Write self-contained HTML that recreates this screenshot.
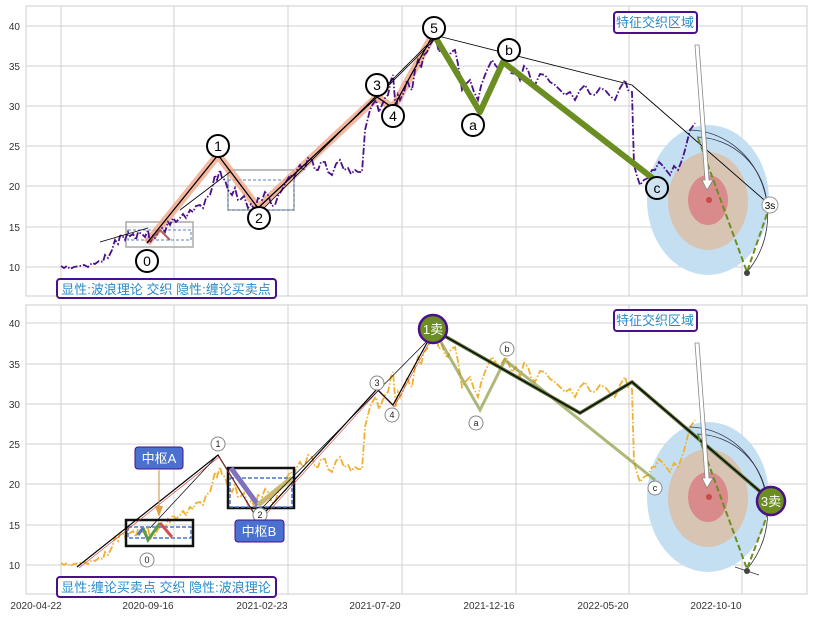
<!DOCTYPE html>
<html><head><meta charset="utf-8"><style>
body{margin:0;background:#fff;}
svg text{font-family:"Liberation Sans","Noto Sans CJK SC",sans-serif;}
</style></head><body>
<svg width="813" height="617" viewBox="0 0 813 617" xmlns="http://www.w3.org/2000/svg">
<defs>
<g id="price">
<polyline fill="none" points="61,266 64,268 67,266 70,269 74,267 80,266 84,265 88,267 92,263 95,264 99,261 103,262 105,255 108,258 112,250 115,240 118,244 120,236 122,235 125,240 128,232 130,236 133,234 136,240 138,232 142,234 145,237 148,230 150,243 153,236 155,238 158,232 162,228 165,232 168,222 170,225 173,218 176,222 180,218 183,214 186,218 190,210 193,212 196,206 200,205 203,208 206,198 210,195 212,188 215,175 217,180 220,170 222,178 225,180 228,190 232,195 235,188 238,200 240,200 244,196 248,208 251,204 255,210 258,198 262,200 265,192 268,195 272,206 275,205 278,196 282,190 286,182 290,175 294,178 297,170 300,165 303,170 305,168 308,158 312,160 315,170 318,170 321,162 325,162 328,172 332,175 336,164 340,160 344,170 348,168 351,174 355,170 358,172 362,172 364,145 365,130 368,118 370,110 373,104 376,100 379,112 382,105 385,98 388,95 391,80 393,75 395,100 396,110 398,95 400,100 404,92 407,80 410,88 412,90 415,70 418,60 421,68 424,55 427,52 430,45 433,40 436,40 439,52 442,48 445,58 448,60 451,52 455,50 458,64 462,90 466,84 470,80 474,92 478,100 481,86 485,75 488,68 492,60 496,66 500,70 503,64 506,60 509,68 512,75 516,70 520,80 524,66 528,70 531,80 535,85 540,74 545,75 550,82 555,85 560,90 565,95 570,92 575,100 580,90 585,85 590,94 595,95 600,88 605,90 610,96 615,100 620,88 625,80 628,90 632,92 633,130 634,165 637,176 640,185 644,180 648,178 652,170 655,170 659,162 662,165 666,170 670,175 674,166 678,170 682,160 685,150 688,138 690,130 693,126 695,123"/>
</g>
</defs>
<rect x="26" y="6" width="781" height="290" fill="#fff" stroke="#ccc"/>
<rect x="26" y="305" width="781" height="289" fill="#fff" stroke="#ccc"/>
<g stroke="#d0d0d0" stroke-width="1">
<line x1="26" x2="807" y1="26" y2="26"/><line x1="26" x2="807" y1="66" y2="66"/><line x1="26" x2="807" y1="106" y2="106"/><line x1="26" x2="807" y1="146" y2="146"/><line x1="26" x2="807" y1="186" y2="186"/><line x1="26" x2="807" y1="227" y2="227"/><line x1="26" x2="807" y1="267" y2="267"/>
<line x1="26" x2="807" y1="323" y2="323"/><line x1="26" x2="807" y1="364" y2="364"/><line x1="26" x2="807" y1="404" y2="404"/><line x1="26" x2="807" y1="444" y2="444"/><line x1="26" x2="807" y1="484" y2="484"/><line x1="26" x2="807" y1="525" y2="525"/><line x1="26" x2="807" y1="565" y2="565"/>
<line x1="61" x2="61" y1="6" y2="296"/><line x1="174" x2="174" y1="6" y2="296"/><line x1="288" x2="288" y1="6" y2="296"/><line x1="402" x2="402" y1="6" y2="296"/><line x1="516" x2="516" y1="6" y2="296"/><line x1="629" x2="629" y1="6" y2="296"/><line x1="742" x2="742" y1="6" y2="296"/>
<line x1="61" x2="61" y1="305" y2="594"/><line x1="174" x2="174" y1="305" y2="594"/><line x1="288" x2="288" y1="305" y2="594"/><line x1="402" x2="402" y1="305" y2="594"/><line x1="516" x2="516" y1="305" y2="594"/><line x1="629" x2="629" y1="305" y2="594"/><line x1="742" x2="742" y1="305" y2="594"/>
</g>
<g font-size="10" fill="#333" text-anchor="end">
<text x="20" y="30">40</text><text x="20" y="70">35</text><text x="20" y="110">30</text><text x="20" y="150">25</text><text x="20" y="190">20</text><text x="20" y="231">15</text><text x="20" y="271">10</text>
<text x="20" y="327">40</text><text x="20" y="368">35</text><text x="20" y="408">30</text><text x="20" y="448">25</text><text x="20" y="488">20</text><text x="20" y="529">15</text><text x="20" y="569">10</text>
</g>
<g font-size="10" fill="#333" text-anchor="middle">
<text x="36" y="609">2020-04-22</text><text x="148" y="609">2020-09-16</text><text x="262" y="609">2021-02-23</text><text x="375" y="609">2021-07-20</text><text x="489" y="609">2021-12-16</text><text x="603" y="609">2022-05-20</text><text x="716" y="609">2022-10-10</text>
</g>

<!-- TOP -->
<ellipse cx="708" cy="200" rx="61" ry="75" fill="#c5dff2"/>
<ellipse cx="708" cy="201" rx="40" ry="49" fill="#d8c4b2"/>
<ellipse cx="708" cy="200" rx="20" ry="25" fill="#d98a8a"/>
<circle cx="709" cy="200" r="3" fill="#c84a4a"/>
<rect x="126" y="222" width="67" height="25" fill="none" stroke="#aaa" stroke-width="1.5"/>
<rect x="128" y="230" width="63" height="10" fill="none" stroke="#5a7fc0" stroke-dasharray="3,2"/>
<rect x="228" y="170" width="66" height="40" fill="none" stroke="#aaa" stroke-width="1.5"/>
<rect x="228" y="180" width="66" height="30" fill="none" stroke="#5a7fc0" stroke-dasharray="3,2"/>
<polyline points="147,243 218,155 258,208 377,97 393,108 434,33" fill="none" stroke="#f0a080" stroke-opacity="0.75" stroke-width="8" stroke-linejoin="round"/>
<use href="#price" stroke="#4b0f8a" stroke-width="1.8" stroke-dasharray="7,2,1.5,2"/>
<polyline points="147,243 160,230 170,240" fill="none" stroke="#b06060" stroke-width="2"/>
<polyline points="147,243 218,155 258,208 377,97 393,108 434,33" fill="none" stroke="#000" stroke-width="1.3"/>
<line x1="100" y1="242" x2="148" y2="228" stroke="#000" stroke-width="0.8"/>
<line x1="180" y1="210" x2="230" y2="172" stroke="#000" stroke-width="0.8"/>
<line x1="262" y1="210" x2="434" y2="38" stroke="#000" stroke-width="0.8"/>
<line x1="377" y1="97" x2="434" y2="40" stroke="#000" stroke-width="0.8"/>
<polyline points="434,35 632,85 770,205" fill="none" stroke="#000" stroke-width="0.9"/>
<polyline points="434,35 480,112 503,62 655,180" fill="none" stroke="#6b8e23" stroke-width="6" stroke-linejoin="round"/>
<path d="M697,137 A 72 72 0 0 1 767,205" fill="none" stroke="#334" stroke-width="0.8"/>
<path d="M690,130 A 80 85 0 0 1 747,272" fill="none" stroke="#334" stroke-width="0.8"/>
<polyline points="698,138 747,272 770,205" fill="none" stroke="#6b8e23" stroke-width="2" stroke-dasharray="6,3"/>
<circle cx="747" cy="273" r="3" fill="#444"/>
<polygon points="695,45 699,45 709,180 713,180 707,190 702,180 705,180" fill="#fff" stroke="#888" stroke-width="0.8"/>
<g fill="#fff" stroke="#000" stroke-width="2">
<circle cx="147" cy="261" r="11"/><circle cx="218" cy="146" r="11"/><circle cx="259" cy="218" r="11"/><circle cx="377" cy="85" r="11"/><circle cx="393" cy="116" r="11"/><circle cx="434" cy="28" r="11"/><circle cx="473" cy="125" r="11"/><circle cx="509" cy="50" r="11"/><circle cx="657" cy="188" r="11" fill="#cfe3f2"/>
</g>
<circle cx="770" cy="205" r="8" fill="#fff" stroke="#999"/>
<g font-size="14" text-anchor="middle" fill="#000">
<text x="147" y="266">0</text><text x="218" y="151">1</text><text x="259" y="223">2</text><text x="377" y="90">3</text><text x="393" y="121">4</text><text x="434" y="33">5</text><text x="473" y="130">a</text><text x="509" y="55">b</text><text x="657" y="193">c</text>
</g>
<text x="770" y="209" font-size="10" text-anchor="middle">3s</text>
<rect x="614" y="12" width="83" height="21" rx="3" fill="#fff" stroke="#4b0f8a" stroke-width="2"/>
<text x="655" y="27" font-size="13" text-anchor="middle" fill="#2a8ac8">特征交织区域</text>
<rect x="57" y="279" width="219" height="19" rx="3" fill="#fff" stroke="#4b0f8a" stroke-width="2"/>
<text x="166" y="294" font-size="13" text-anchor="middle" fill="#2a8ac8">显性:波浪理论 交织 隐性:缠论买卖点</text>

<!-- BOTTOM -->
<ellipse cx="708" cy="497" rx="61" ry="75" fill="#c5dff2"/>
<ellipse cx="708" cy="498" rx="40" ry="49" fill="#d8c4b2"/>
<ellipse cx="708" cy="497" rx="20" ry="25" fill="#d98a8a"/>
<circle cx="709" cy="497" r="3" fill="#c84a4a"/>
<g transform="translate(0,297)"><use href="#price" stroke="#f0b030" stroke-width="1.8" stroke-dasharray="7,2,1.5,2"/></g>
<rect x="126" y="520" width="67" height="26" fill="none" stroke="#111" stroke-width="2.5"/>
<rect x="128" y="527" width="63" height="11" fill="none" stroke="#4a78c8" stroke-width="1.5" stroke-dasharray="4,2"/>
<rect x="228" y="468" width="66" height="40" fill="none" stroke="#111" stroke-width="2.5"/>
<rect x="230" y="478" width="62" height="29" fill="none" stroke="#4a78c8" stroke-width="1.5" stroke-dasharray="4,2"/>
<polyline points="143,528 148,540 160,523" fill="none" stroke="#5a9a50" stroke-width="3"/>
<polyline points="160,523 172,537" fill="none" stroke="#d05050" stroke-width="3"/>
<polyline points="138,535 143,528" fill="none" stroke="#4a78c8" stroke-width="3"/>
<line x1="231" y1="468" x2="258" y2="505" stroke="#8070c0" stroke-width="5"/>
<line x1="258" y1="505" x2="292" y2="478" stroke="#c8b870" stroke-width="5"/>
<polyline points="77,567 218,455 258,520 377,389 393,405 434,330" fill="none" stroke="#000" stroke-width="1.2"/>
<polyline points="78,567 218,456 258,521 377,390 393,406 434,331" fill="none" stroke="#d04040" stroke-width="0.6" transform="translate(1,1)"/>
<line x1="150" y1="528" x2="218" y2="455" stroke="#000" stroke-width="0.7"/>
<line x1="262" y1="508" x2="434" y2="334" stroke="#000" stroke-width="0.7"/>
<polyline points="434,330 480,410 505,360 655,480" fill="none" stroke="#8a9a40" stroke-opacity="0.7" stroke-width="3"/>
<polyline points="434,330 580,413 632,382 770,500" fill="none" stroke="#556b2f" stroke-width="3.5"/>
<polyline points="434,330 580,413 632,382 770,500" fill="none" stroke="#000" stroke-width="1.2"/>
<path d="M697,434 A 72 72 0 0 1 767,501" fill="none" stroke="#334" stroke-width="0.8"/>
<path d="M690,427 A 80 85 0 0 1 747,569" fill="none" stroke="#334" stroke-width="0.8"/>
<polyline points="698,435 747,569 770,508" fill="none" stroke="#6b8e23" stroke-width="2" stroke-dasharray="6,3"/>
<line x1="735" y1="567" x2="759" y2="575" stroke="#333" stroke-width="0.8"/>
<circle cx="747" cy="571" r="3" fill="#444"/>
<polygon points="695,343 699,343 709,478 713,478 707,488 702,478 705,478" fill="#fff" stroke="#888" stroke-width="0.8"/>
<line x1="159" y1="470" x2="159" y2="508" stroke="#c89040"/><polygon points="155,506 163,506 159,517" fill="#e0a040"/>
<polygon points="256,519 264,519 260,510" fill="#e0a040"/>
<g fill="#fff" stroke="#888" stroke-width="1">
<circle cx="147" cy="560" r="7"/><circle cx="218" cy="444" r="7"/><circle cx="260" cy="515" r="7"/><circle cx="377" cy="383" r="7"/><circle cx="392" cy="415" r="7"/><circle cx="476" cy="423" r="7"/><circle cx="507" cy="349" r="7"/><circle cx="655" cy="488" r="7"/>
</g>
<g font-size="9" text-anchor="middle" fill="#222">
<text x="147" y="563">0</text><text x="218" y="447">1</text><text x="260" y="518">2</text><text x="377" y="386">3</text><text x="392" y="418">4</text><text x="476" y="426">a</text><text x="507" y="352">b</text><text x="655" y="491">c</text>
</g>
<circle cx="433" cy="329" r="14" fill="#6b8e23" stroke="#4b0f8a" stroke-width="2.5"/>
<text x="433" y="334" font-size="13" text-anchor="middle" fill="#fff">1卖</text>
<circle cx="771" cy="501" r="14" fill="#6b8e23" stroke="#4b0f8a" stroke-width="2.5"/>
<text x="771" y="506" font-size="13" text-anchor="middle" fill="#fff">3卖</text>
<rect x="135" y="447" width="48" height="22" rx="3" fill="#4a70d0" stroke="#4b0f8a"/>
<text x="159" y="463" font-size="13" text-anchor="middle" fill="#fff">中枢A</text>
<rect x="235" y="520" width="49" height="22" rx="3" fill="#4a70d0" stroke="#4b0f8a"/>
<text x="259" y="536" font-size="13" text-anchor="middle" fill="#fff">中枢B</text>
<rect x="614" y="310" width="83" height="21" rx="3" fill="#fff" stroke="#4b0f8a" stroke-width="2"/>
<text x="655" y="325" font-size="13" text-anchor="middle" fill="#2a8ac8">特征交织区域</text>
<rect x="57" y="577" width="219" height="20" rx="3" fill="#fff" stroke="#4b0f8a" stroke-width="2"/>
<text x="166" y="592" font-size="13" text-anchor="middle" fill="#2a8ac8">显性:缠论买卖点 交织 隐性:波浪理论</text>
</svg>
</body></html>
